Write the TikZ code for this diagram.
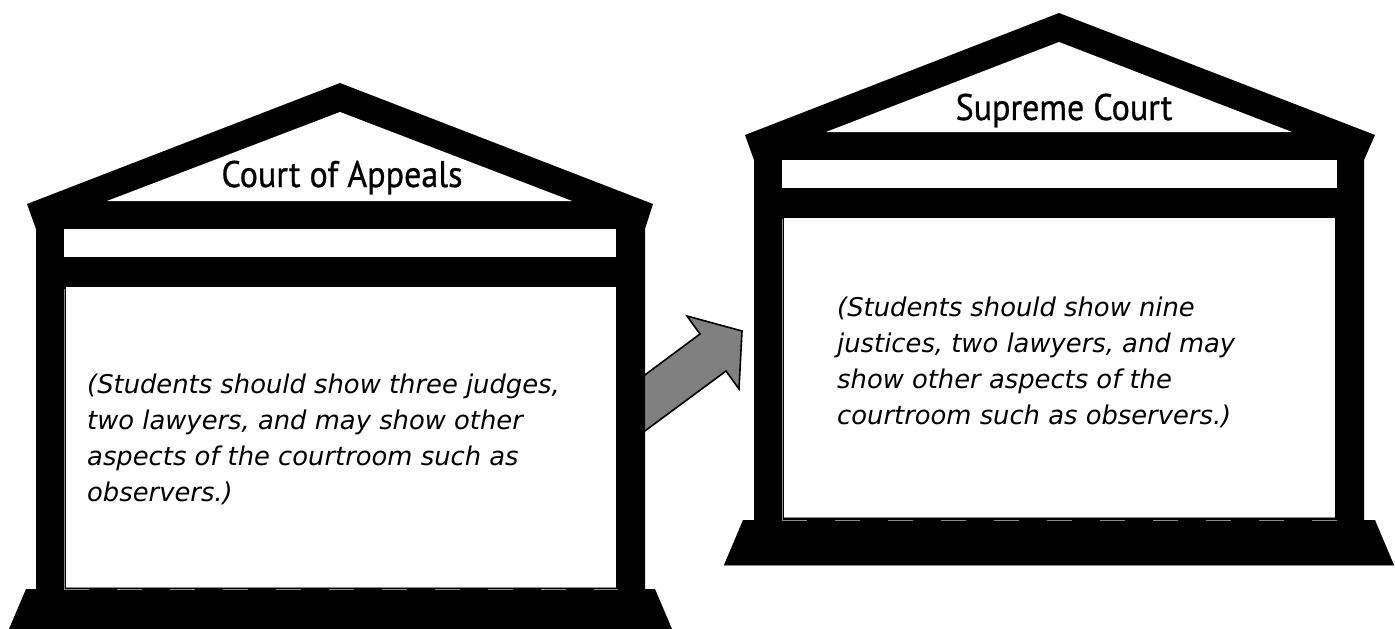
\documentclass[tikz,border=0pt]{standalone}
\usepackage{fontspec}
\setmainfont{DejaVu Sans}
\newfontfamily\signfont[FakeStretch=0.92,FakeBold=0.8]{PT Sans}
\usetikzlibrary{positioning}
\tikzset{
  courtfill/.style={fill=black},
  courtgap/.style={fill=white},
  courtline/.style={draw=black!45, line width=1pt},
  courtdash/.style={draw=black!45, line width=1pt, dash pattern=on 25pt off 28pt},
  signtext/.style={font=\signfont\fontsize{37}{37}\selectfont, inner sep=0pt, anchor=base},
  notetext/.style={font=\itshape\fontsize{25.8}{36}\selectfont, align=left, inner sep=0pt, anchor=north west}
}
\begin{document}
\begin{tikzpicture}[x=1pt,y=-1pt]
  \useasboundingbox (0,0) rectangle (1395,629);

  % Arrow between the courts
  \filldraw [fill=black!50, draw=black, line width=1.6pt]
    (630,442) -- (726,371) -- (739,389) -- (742,331) -- (687,316) -- (700,334) -- (630,386) -- cycle;

  % Left building
  \path [courtfill] (27,204) -- (340,83) -- (653,204) -- (645,229) -- (645,589) -- (655,589)
    -- (672,629) -- (9,629) -- (26,589) -- (36,589) -- (36,229) -- cycle;
  \path [courtgap] (107,201) -- (340,112) -- (572,201) -- cycle;
  \path [courtgap] (64,229) rectangle (616,257);
  \path [courtgap] (66,287) rectangle (616,587);
  \draw [courtline] (64,289) -- (64,589);
  \draw [courtline] (66,587) -- (616,587);
  \draw [courtdash] (64,589.5) -- (618,589.5);

  % Right building
  \path [courtfill] (745,135) -- (1059,13) -- (1375,135) -- (1364,160) -- (1364,520) -- (1375,520)
    -- (1394,565) -- (724,565) -- (743,520) -- (754,520) -- (754,160) -- cycle;
  \path [courtgap] (826,132) -- (1059,42) -- (1292,132) -- cycle;
  \path [courtgap] (782,160) rectangle (1337,188);
  \path [courtgap] (784,218) rectangle (1335,517);
  \draw [courtline] (782,219) -- (782,520);
  \draw [courtline] (784,517) -- (1335,517);
  \draw [courtdash] (782,520) -- (1337,520);
  \draw [courtline] (724,565) -- (1394,565);

  % Signs
  \node [signtext] (appealsign) at (342,187) {Court of Appeals};
  \node [signtext] (supremesign) at (1064,120) {Supreme Court};

  % Notes
  \node [notetext] (appealnote) at (87,374)
    {(Students should show three judges,\\two lawyers, and may show other\\aspects of the courtroom such as\\observers.)};
  \node [notetext] (supremenote) at (837,297)
    {(Students should show nine\\justices, two lawyers, and may\\show other aspects of the\\courtroom such as observers.)};
\end{tikzpicture}
\end{document}
